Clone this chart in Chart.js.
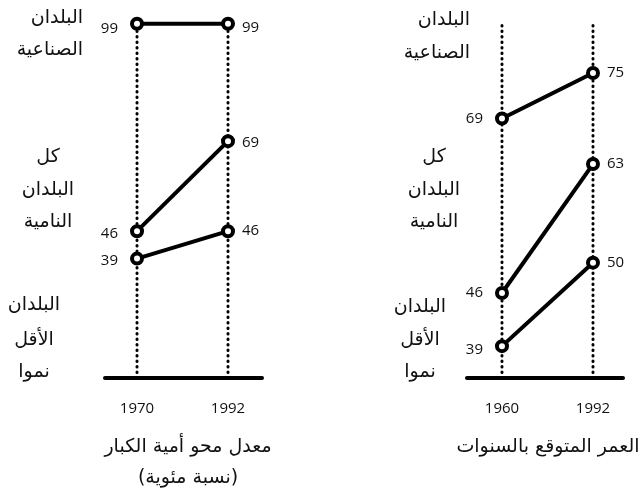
<!DOCTYPE html>
<html>
<head>
<meta charset="utf-8">
<script src="https://cdn.jsdelivr.net/npm/chart.js@4"></script>
<style>
  body { margin: 0; background: #fff; }
  #wrap { position: relative; width: 642px; height: 488px; }
  canvas { position: absolute; top: 0; }
  #left { left: 0; }
  #right { left: 321px; }
</style>
</head>
<body>
<div id="wrap">
  <canvas id="left" width="321" height="488"></canvas>
  <canvas id="right" width="321" height="488"></canvas>
</div>
<script>
// adult literacy rate (%)
const literacyYears = [1970, 1992];
const literacyIndustrial = [99, 99];
const literacyDeveloping = [46, 69];
const literacyLeast = [39, 46];

// life expectancy (years)
const lifeYears = [1960, 1992];
const lifeIndustrial = [69, 75];
const lifeDeveloping = [46, 63];
const lifeLeast = [39, 50];

const groupNames = [
    ['البلدان', 'الصناعية'],
    ['كل', 'البلدان', 'النامية'],
    ['البلدان', 'الأقل', 'نموا']
];
const literacyTitle = ['معدل محو أمية الكبار', '(نسبة مئوية)'];
const lifeTitle = ['العمر المتوقع بالسنوات'];

const ARABIC = '"DejaVu Sans", sans-serif';
const NUM = '"Open Sans", sans-serif';

// draws baseline, value labels, years, group names, titles
const slopeText = {
    id: 'slopeText',
    beforeDatasetsDraw(chart, args, opts) {
        const ctx = chart.ctx, a = chart.chartArea;
        ctx.save();
        ctx.strokeStyle = '#000';
        ctx.lineWidth = 4;
        ctx.lineCap = 'round';
        ctx.beginPath();
        ctx.moveTo(a.left, a.bottom);
        ctx.lineTo(a.right, a.bottom);
        ctx.stroke();
        ctx.restore();
    },
    afterDatasetsDraw(chart, args, opts) {
        const ctx = chart.ctx, a = chart.chartArea, xs = chart.scales.x;
        ctx.save();
        ctx.fillStyle = '#111';

        // value labels next to the markers
        ctx.font = '15px ' + NUM;
        ctx.textBaseline = 'middle';
        for (let d = 0; d < 3; d++) {
            const meta = chart.getDatasetMeta(d);
            const vals = chart.data.datasets[d].data;
            meta.data.forEach((pt, i) => {
                const dy = opts.nudge[d][i];
                if (i === 0) {
                    ctx.textAlign = 'right';
                    ctx.fillText(String(vals[i].y), pt.x - 19, pt.y + dy);
                } else {
                    ctx.textAlign = 'left';
                    ctx.fillText(String(vals[i].y), pt.x + 14, pt.y + dy);
                }
            });
        }

        // years under the baseline
        ctx.textAlign = 'center';
        opts.years.forEach(yr => ctx.fillText(String(yr), xs.getPixelForValue(yr), a.bottom + 31));

        // group names
        ctx.font = '19px ' + ARABIC;
        ctx.direction = 'rtl';
        opts.groups.forEach((g, gi) => {
            ctx.textAlign = g.align;
            groupNames[gi].forEach((t, li) => ctx.fillText(t, g.x, g.y[li]));
        });

        // panel title
        ctx.font = '19px ' + ARABIC;
        ctx.textAlign = 'center';
        opts.title.forEach((t, i) => ctx.fillText(t, opts.titleX, 447 + i * 31));
        ctx.restore();
    }
};

function pts(years, vals) {
    return years.map((yr, i) => ({ x: yr, y: vals[i] }));
}

function makePanel(id, years, series, guideTop, scaleX, scaleY, pad, text) {
    const seriesStyle = {
        borderColor: '#000',
        borderWidth: 4,
        pointRadius: 5,
        pointBorderWidth: 4,
        pointBackgroundColor: '#fff',
        pointBorderColor: '#000',
        clip: false,
        order: 0
    };
    const datasets = series.map(v => Object.assign({ data: pts(years, v) }, seriesStyle));
    years.forEach(yr => {
        datasets.push({
            data: [{ x: yr, y: scaleY[0] }, { x: yr, y: guideTop }],
            borderColor: '#000',
            borderWidth: 3,
            borderDash: [0.5, 5],
            borderCapStyle: 'round',
            pointRadius: 0,
            clip: false,
            order: 5
        });
    });
    return new Chart(document.getElementById(id), {
        type: 'line',
        data: { datasets: datasets },
        options: {
            responsive: false,
            animation: false,
            events: [],
            layout: { padding: pad },
            plugins: {
                legend: { display: false },
                tooltip: { enabled: false },
                slopeText: text
            },
            scales: {
                x: { type: 'linear', min: scaleX[0], max: scaleX[1], display: false },
                y: { min: scaleY[0], max: scaleY[1], display: false }
            }
        },
        plugins: [slopeText]
    });
}

makePanel('left', literacyYears,
    [literacyIndustrial, literacyDeveloping, literacyLeast],
    99,
    [1962.26, 2000.22], [8.5, 102.5],
    { left: 105, right: 59, top: 10, bottom: 110 },
    {
        years: literacyYears,
        nudge: [[5, 4], [3, 2], [2, 0]],
        groups: [
            { align: 'right', x: 83, y: [18, 50] },
            { align: 'center', x: 48, y: [157, 190, 222] },
            { align: 'center', x: 34, y: [305, 340, 372] }
        ],
        title: literacyTitle,
        titleX: 188
    });

makePanel('right', lifeYears,
    [lifeIndustrial, lifeDeveloping, lifeLeast],
    81.4,
    [1947.7, 2002.55], [34.8, 83.3],
    { left: 146, right: 19, top: 10, bottom: 110 },
    {
        years: lifeYears,
        nudge: [[0, 0], [0, 0], [4, 0]],
        groups: [
            { align: 'right', x: 149, y: [20, 53] },
            { align: 'center', x: 113, y: [157, 190, 222] },
            { align: 'center', x: 99, y: [307, 340, 372] }
        ],
        title: lifeTitle,
        titleX: 227
    });
</script>
</body>
</html>
